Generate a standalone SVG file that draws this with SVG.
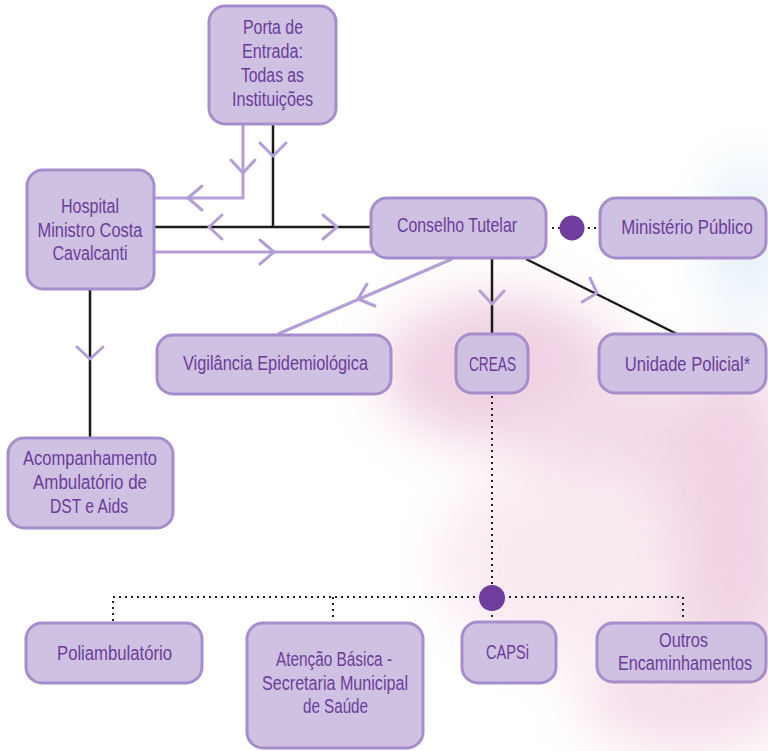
<svg xmlns="http://www.w3.org/2000/svg" width="768" height="751" viewBox="0 0 768 751">
<defs>
<style>
.box{fill:#cfc1e2;stroke:#a68dcb;stroke-width:3}
.t{font-family:"Liberation Sans",Arial,sans-serif;font-size:20px;fill:#6a3d99;text-anchor:middle}
.pl{fill:none;stroke:#b39ed6;stroke-width:3}
.bl{fill:none;stroke:#1a1a1a;stroke-width:2.5}
.ar{fill:none;stroke:#b39ed6;stroke-width:3;stroke-linecap:round;stroke-linejoin:round}
.dot{fill:none;stroke:#222;stroke-width:2;stroke-dasharray:2 4}
.hub{fill:#6e3d9e}
</style>
<filter id="blur" x="-50%" y="-50%" width="200%" height="200%"><feGaussianBlur stdDeviation="26"/></filter>
</defs>
<rect width="768" height="751" fill="#ffffff"/>
<g id="background" filter="url(#blur)" opacity="0.6">
<ellipse cx="500" cy="370" rx="120" ry="75" fill="#e5b3cf"/>
<ellipse cx="610" cy="430" rx="90" ry="60" fill="#eac2d9"/>
<ellipse cx="730" cy="520" rx="70" ry="170" fill="#e7b7d2"/>
<ellipse cx="690" cy="695" rx="110" ry="60" fill="#efcade"/>
<ellipse cx="560" cy="560" rx="120" ry="100" fill="#f5dde8"/>
<ellipse cx="748" cy="240" rx="40" ry="80" fill="#d5e7f3"/>
</g>
<g id="connectors">
<polyline class="pl" points="243,125 243,198 155,198"/>
<polyline class="ar" points="231,160 243,173 255,160"/>
<polyline class="ar" points="202,186 188,198 202,210"/>
<polyline class="bl" points="273,125 273,227"/>
<polyline class="ar" points="260,143 273,156 286,143"/>
<line class="bl" x1="155" y1="227" x2="372" y2="227"/>
<polyline class="ar" points="222,215 209,227 222,239"/>
<polyline class="ar" points="323,215 337,227 323,239"/>
<line class="pl" x1="155" y1="252" x2="376" y2="252"/>
<polyline class="ar" points="260,240 274,252 260,264"/>
<line class="pl" x1="452" y1="259" x2="278" y2="334"/>
<polyline class="ar" points="367,284 358,299 375,306"/>
<line class="bl" x1="492" y1="259" x2="492" y2="334"/>
<polyline class="ar" points="480,291 492,304 504,291"/>
<line class="bl" x1="526" y1="259" x2="677" y2="334"/>
<polyline class="ar" points="590,278 597,293 582,302"/>
<line class="bl" x1="90" y1="290" x2="90" y2="438"/>
<polyline class="ar" points="77,347 90,359 103,347"/>
<line class="dot" x1="552" y1="228" x2="598" y2="228"/>
<circle class="hub" cx="572" cy="228" r="12.5"/>
<line class="dot" x1="492" y1="396" x2="492" y2="597"/>
<polyline class="dot" points="113,621 113,597 683,597 683,621"/>
<line class="dot" x1="333" y1="597" x2="333" y2="621"/>
<line class="dot" x1="492" y1="597" x2="492" y2="621"/>
<circle class="hub" cx="492" cy="598" r="13"/>
</g>
<g id="porta"><rect class="box" x="209" y="6" width="127" height="118" rx="16"/>
<text class="t" x="273" y="34" textLength="60" lengthAdjust="spacingAndGlyphs">Porta de</text>
<text class="t" x="272.5" y="58" textLength="61" lengthAdjust="spacingAndGlyphs">Entrada:</text>
<text class="t" x="272.5" y="82" textLength="63" lengthAdjust="spacingAndGlyphs">Todas as</text>
<text class="t" x="272.5" y="106" textLength="81" lengthAdjust="spacingAndGlyphs">Instituições</text></g>
<g id="hospital"><rect class="box" x="27" y="170" width="127" height="119" rx="16"/>
<text class="t" x="90" y="213" textLength="58" lengthAdjust="spacingAndGlyphs">Hospital</text>
<text class="t" x="90" y="237" textLength="105" lengthAdjust="spacingAndGlyphs">Ministro Costa</text>
<text class="t" x="90" y="260" textLength="75" lengthAdjust="spacingAndGlyphs">Cavalcanti</text></g>
<g id="conselho"><rect class="box" x="371" y="198" width="175" height="60" rx="16"/>
<text class="t" x="457" y="232" textLength="120" lengthAdjust="spacingAndGlyphs">Conselho Tutelar</text></g>
<g id="ministerio"><rect class="box" x="600" y="198" width="166" height="60" rx="16"/>
<text class="t" transform="translate(687 234) scale(0.84 1)" x="0" y="0">Ministério Público</text></g>
<g id="vigilancia"><rect class="box" x="157" y="335" width="234" height="59" rx="16"/>
<text class="t" x="275.5" y="370" textLength="185" lengthAdjust="spacingAndGlyphs">Vigilância Epidemiológica</text></g>
<g id="creas"><rect class="box" x="456" y="334" width="72" height="59" rx="16"/>
<text class="t" x="492.5" y="371" textLength="47" lengthAdjust="spacingAndGlyphs">CREAS</text></g>
<g id="unidade"><rect class="box" x="599" y="334" width="167" height="59" rx="16"/>
<text class="t" transform="translate(687.5 371) scale(0.83 1)" x="0" y="0">Unidade Policial*</text></g>
<g id="acompanhamento"><rect class="box" x="8" y="438" width="165" height="90" rx="16"/>
<text class="t" x="90" y="465" textLength="134" lengthAdjust="spacingAndGlyphs">Acompanhamento</text>
<text class="t" x="90" y="489" textLength="114" lengthAdjust="spacingAndGlyphs">Ambulatório de</text>
<text class="t" x="89" y="513" textLength="78" lengthAdjust="spacingAndGlyphs">DST e Aids</text></g>
<g id="poliambulatorio"><rect class="box" x="26" y="623" width="176" height="60" rx="16"/>
<text class="t" x="114.5" y="660" textLength="115" lengthAdjust="spacingAndGlyphs">Poliambulatório</text></g>
<g id="atencao"><rect class="box" x="247" y="623" width="176" height="125" rx="16"/>
<text class="t" x="334" y="666" textLength="116" lengthAdjust="spacingAndGlyphs">Atenção Básica -</text>
<text class="t" x="335" y="690" textLength="146" lengthAdjust="spacingAndGlyphs">Secretaria Municipal</text>
<text class="t" x="335.5" y="713" textLength="65" lengthAdjust="spacingAndGlyphs">de Saúde</text></g>
<g id="capsi"><rect class="box" x="462" y="622" width="94" height="61" rx="16"/>
<text class="t" x="507.5" y="659" textLength="43" lengthAdjust="spacingAndGlyphs">CAPSi</text></g>
<g id="outros"><rect class="box" x="597" y="623" width="169" height="59" rx="16"/>
<text class="t" x="683.5" y="647" textLength="49" lengthAdjust="spacingAndGlyphs">Outros</text>
<text class="t" transform="translate(685 670) scale(0.81 1)" x="0" y="0">Encaminhamentos</text></g>
</svg>
